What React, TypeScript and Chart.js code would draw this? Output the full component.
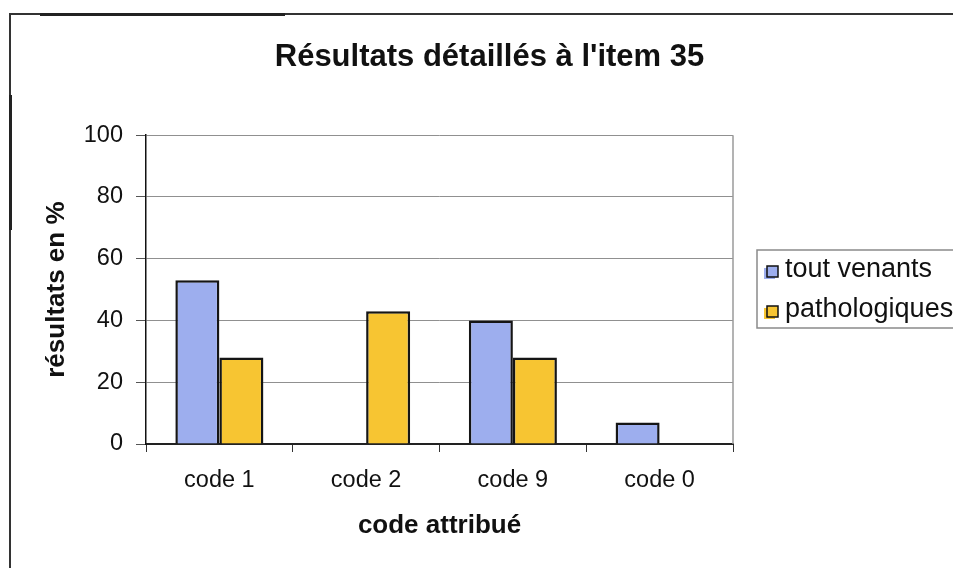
import React, { useEffect, useRef } from 'react';
import { Chart, registerables } from 'chart.js';

Chart.register(...registerables);

const chartTitle = "Résultats détaillés à l'item 35";
const categories = ['code 1', 'code 2', 'code 9', 'code 0'];
const seriesNames = ['tout venants', 'pathologiques'];
const toutVenants = [53, 0, 40, 7];
const pathologiques = [28, 43, 28, 0];
const yTicks = [0, 20, 40, 60, 80, 100];
const yAxisTitle = 'résultats en %';
const xAxisTitle = 'code attribué';
const seriesColors = ['#9DAEEE', '#F7C532'];

const FONT = "'Liberation Sans', Arial, Helvetica, sans-serif";

const decorPlugin = {
  id: 'decor',
  afterLayout(chart: any) {
    const t = chart.titleBlock;
    if (t) {
      t.left = 0;
      t.right = 979;
      t.width = 979;
    }
  },
  beforeDraw(chart: any) {
    const ctx = chart.ctx;
    ctx.save();
    ctx.fillStyle = '#ffffff';
    ctx.fillRect(0, 0, chart.width, chart.height);
    ctx.strokeStyle = '#333';
    ctx.lineWidth = 2;
    ctx.beginPath();
    ctx.moveTo(10, chart.height);
    ctx.lineTo(10, 14);
    ctx.lineTo(chart.width, 14);
    ctx.stroke();
    ctx.strokeStyle = '#222';
    ctx.lineWidth = 3;
    ctx.beginPath();
    ctx.moveTo(40, 14.5);
    ctx.lineTo(285, 14.5);
    ctx.stroke();
    ctx.beginPath();
    ctx.moveTo(10.5, 95);
    ctx.lineTo(10.5, 230);
    ctx.stroke();
    ctx.restore();
  },
  beforeDatasetsDraw(chart: any) {
    const { ctx, chartArea: a } = chart;
    ctx.save();
    ctx.strokeStyle = '#9a9a9a';
    ctx.lineWidth = 1.5;
    ctx.beginPath();
    ctx.moveTo(a.right, a.top);
    ctx.lineTo(a.right, a.bottom);
    ctx.stroke();
    ctx.restore();
  },
  afterDraw(chart: any) {
    const ctx = chart.ctx;
    ctx.save();
    const lx = 757, ly = 250, lw = 230, lh = 78;
    ctx.strokeStyle = '#8a8a8a';
    ctx.lineWidth = 1.5;
    ctx.strokeRect(lx, ly, lw, lh);
    chart.data.datasets.forEach((ds: any, i: number) => {
      const cy = 272 + i * 40;
      ctx.fillStyle = ds.backgroundColor;
      ctx.fillRect(764, cy - 4, 11, 11);
      ctx.fillRect(767, cy - 6, 11, 11);
      ctx.strokeStyle = '#111';
      ctx.lineWidth = 1.5;
      ctx.strokeRect(767, cy - 6, 11, 11);
      ctx.fillStyle = '#111';
      ctx.font = `27px ${FONT}`;
      ctx.textBaseline = 'middle';
      ctx.textAlign = 'left';
      ctx.fillText(ds.label, 785, cy - 2);
    });
    ctx.restore();
  },
};

export default function App() {
  const ref = useRef<HTMLCanvasElement>(null);

  useEffect(() => {
    if (!ref.current) return;
    const chart = new Chart(ref.current, {
      type: 'bar',
      data: {
        labels: categories,
        datasets: [
          {
            label: seriesNames[0],
            data: toutVenants,
            backgroundColor: seriesColors[0],
            borderColor: '#151515',
            borderWidth: 2.5,
            categoryPercentage: 0.6,
            barPercentage: 1.0,
          },
          {
            label: seriesNames[1],
            data: pathologiques,
            backgroundColor: seriesColors[1],
            borderColor: '#151515',
            borderWidth: 2.5,
            categoryPercentage: 0.6,
            barPercentage: 1.0,
          },
        ],
      },
      options: {
        responsive: false,
        maintainAspectRatio: false,
        animation: false,
        layout: { padding: { top: 0, left: 0, right: 220, bottom: 0 } },
        plugins: {
          legend: { display: false },
          tooltip: { enabled: false },
          title: {
            display: true,
            text: chartTitle,
            color: '#111',
            font: { family: FONT, size: 31, weight: 'bold' },
            padding: { top: 39, bottom: 59 },
          },
        },
        scales: {
          x: {
            grid: {
              offset: true,
              drawOnChartArea: false,
              drawTicks: true,
              tickLength: 8,
              color: '#333',
              tickColor: '#333',
            },
            border: { display: true, color: '#222', width: 2 },
            ticks: { color: '#111', font: { family: FONT, size: 23.5 }, padding: 14 },
            title: {
              display: true,
              text: xAxisTitle,
              color: '#111',
              font: { family: FONT, size: 26, weight: 'bold' },
              padding: { top: 0, bottom: 27 },
            },
            afterFit: (s: any) => {
              s.height = 124;
            },
          },
          y: {
            min: 0,
            max: 100,
            afterBuildTicks: (s: any) => {
              s.ticks = yTicks.map((v) => ({ value: v }));
            },
            grid: { color: '#909090', lineWidth: 1, tickLength: 10, tickColor: '#555' },
            border: { display: true, color: '#111', width: 1.5 },
            ticks: { color: '#111', font: { family: FONT, size: 23.5 }, padding: 13 },
            title: {
              display: true,
              text: yAxisTitle,
              color: '#111',
              font: { family: FONT, size: 26, weight: 'bold' },
              padding: { top: 41, bottom: 0 },
            },
            afterFit: (s: any) => {
              s.width = 146;
            },
          },
        },
      },
      plugins: [decorPlugin],
    } as any);
    return () => chart.destroy();
  }, []);

  return (
    <div
      style={{
        position: 'absolute',
        left: 0,
        top: 0,
        width: 953,
        height: 568,
        background: '#fff',
        overflow: 'hidden',
      }}
    >
      <canvas ref={ref} width={953} height={568} style={{ display: 'block', width: 953, height: 568 }} />
    </div>
  );
}
